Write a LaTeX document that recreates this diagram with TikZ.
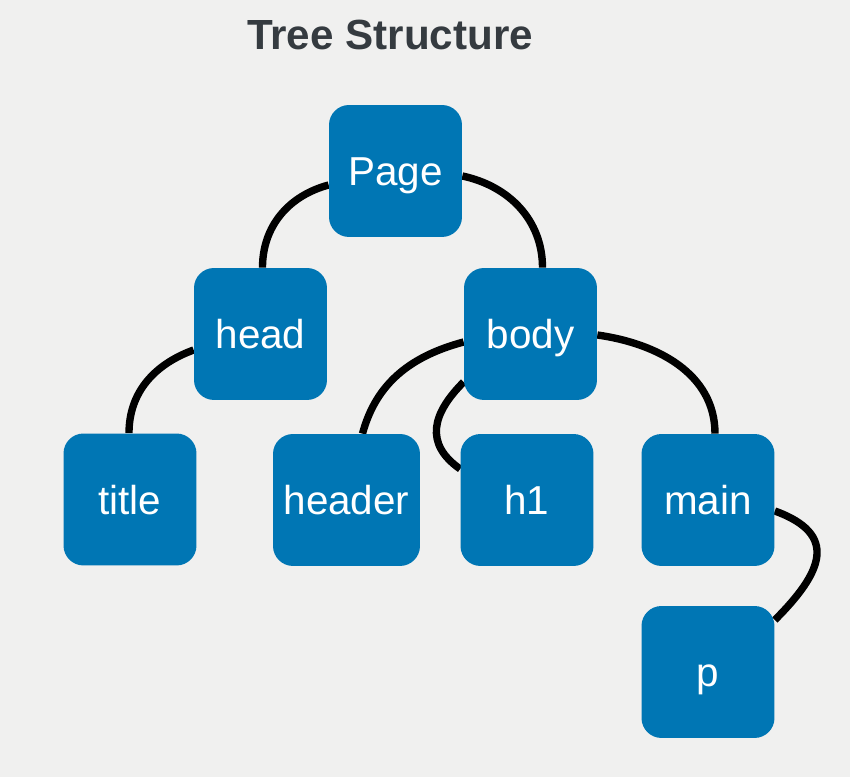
\documentclass[tikz,border=0pt]{standalone}
\usepackage{fontspec}
\setmainfont{Liberation Sans}
\usetikzlibrary{calc}
\definecolor{boxblue}{RGB}{0,118,180}
\definecolor{bgcol}{RGB}{240,240,239}
\definecolor{titlecol}{RGB}{53,59,64}
\pgfdeclarelayer{background}
\pgfsetlayers{background,main}

\begin{document}
\begin{tikzpicture}[x=0.02cm, y=0.02cm,
    box/.style={fill=boxblue, text=white, rounded corners=0.4cm,
      minimum width=2.66cm, minimum height=2.64cm, inner sep=0pt,
      text height=17pt, text depth=0pt,
      font=\fontsize{23}{27}\selectfont},
    edge/.style={line width=4.2pt, black}]
  \def\bgw{850}
  \def\bgh{777}
  \node[text=titlecol, font=\fontsize{24}{29}\selectfont\bfseries] (heading) at (390,742) {Tree Structure};
  %root
  \node[box] (Page) at (395.5,606) {Page};
  %level 1
  \node[box] (head) at (260.5,443) {head};
  \node[box] (body) at (530.5,443) {body};
  %level 2
  \node[box] (title) at (130,277.5) {title};
  \node[box, minimum width=2.94cm] (header) at (346.5,277) {header};
  \node[box] (h1) at (527,277) {h1};
  \node[box] (main) at (708,277) {main};
  %level 3
  \node[box] (p) at (708,105) {p};

  \begin{pgfonlayer}{background}
    \fill[bgcol] (0,0) rectangle (\bgw,\bgh);
    \draw[edge] ($(Page.west)+(0,-14)$) to[out=195,in=90] ($(head.north)+(2,0)$);
    \draw[edge] ($(Page.east)+(0,-5)$) to[out=-12,in=90] ($(body.north)+(12,0)$);
    \draw[edge] ($(head.west)+(0,-16)$) to[out=200,in=90] ($(title.north)+(-1,0)$);
    \draw[edge] ($(body.west)+(0,-8)$) to[out=195,in=75] ($(header.north)+(16,0)$);
    \draw[edge] ($(body.west)+(0,-48)$) to[out=225,in=145,looseness=1.3] ($(h1.west)+(0,31)$);
    \draw[edge] ($(body.east)+(0,-1)$) to[out=-8,in=90] ($(main.north)+(7,0)$);
    \draw[edge] ($(main.east)+(0,-11)$) to[out=-20,in=45,looseness=1.6] ($(p.east)+(0,52)$);
  \end{pgfonlayer}
\end{tikzpicture}
\end{document}
